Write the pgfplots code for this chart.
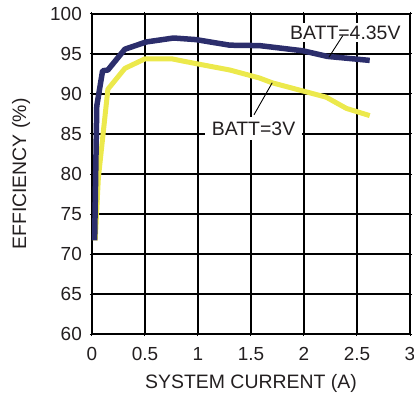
\documentclass[border=0pt]{standalone}
\usepackage{fontspec}
\setmainfont{Liberation Sans}
\usepackage{pgfplots}
\pgfplotsset{compat=1.18}
\definecolor{navy}{RGB}{44,46,108}
\definecolor{yel}{RGB}{236,233,76}
\definecolor{txt}{RGB}{35,31,32}
\begin{document}
\begin{tikzpicture}
\begin{axis}[
  scale only axis, width=318bp, height=320bp,
  xmin=0, xmax=3, ymin=60, ymax=100,
  xtick={0,0.5,1,1.5,2,2.5,3}, ytick={60,65,...,100},
  xticklabels={0,0.5,1,1.5,2,2.5,3},
  grid=major, major grid style={black, line width=1.1bp},
  axis line style={line width=2.2bp, black},
  tick style={black, line width=1bp}, major tick length=4bp, tick align=center,
  /pgf/number format/assume math mode=true,
  ticklabel style={font=\fontsize{19}{21}\selectfont, text=txt},
  xticklabel style={anchor=center, yshift=-18bp},
  yticklabel style={anchor=east, inner sep=0pt, xshift=-8bp},
  every axis x label/.style={at={(axis description cs:0.5,0)}, anchor=center, yshift=-49bp, font=\fontsize{19.5}{22}\selectfont, text=txt},
  every axis y label/.style={at={(axis description cs:0,0.5)}, anchor=center, rotate=90, yshift=71bp, font=\fontsize{19.5}{22}\selectfont, text=txt},
  xlabel={SYSTEM CURRENT (A)}, ylabel={EFFICIENCY (\%)},
  clip=false,
]
\addplot[yel, line width=5bp, line join=round] coordinates {
 (0.03,71.7) (0.06,79.5) (0.15,90.6) (0.31,93.2) (0.50,94.4) (0.75,94.4)
 (0.98,93.8) (1.30,93.0) (1.58,92.0) (1.70,91.4) (2.21,89.6) (2.40,88.2) (2.62,87.3)};
\addplot[navy, line width=5.5bp, line join=round] coordinates {
 (0.025,71.7) (0.045,88.5) (0.10,92.9) (0.15,93.0) (0.31,95.6) (0.51,96.5)
 (0.77,97.0) (0.98,96.8) (1.30,96.1) (1.58,96.05) (1.99,95.4) (2.22,94.7) (2.62,94.2)};
\node[fill=white, inner xsep=7bp, inner ysep=5bp, text=txt, font=\fontsize{19.5}{22}\selectfont] at (axis cs:1.524,85.7) {BATT=3V};
\draw[black, line width=0.9bp] (axis cs:1.528,87.4) -- (axis cs:1.70,91.4);
\node[fill=white, inner xsep=3bp, inner ysep=3bp, text=txt, font=\fontsize{19.5}{22}\selectfont] at (axis cs:2.39,97.7) {BATT=4.35V};
\draw[black, line width=0.9bp] (axis cs:2.366,97.3) -- (axis cs:2.235,94.6);
\coordinate (LL) at (rel axis cs:0,0);
\end{axis}
\pgfresetboundingbox
\useasboundingbox (LL) ++(-92bp,-60bp) rectangle ++(414bp,394bp);
\end{tikzpicture}
\end{document}
